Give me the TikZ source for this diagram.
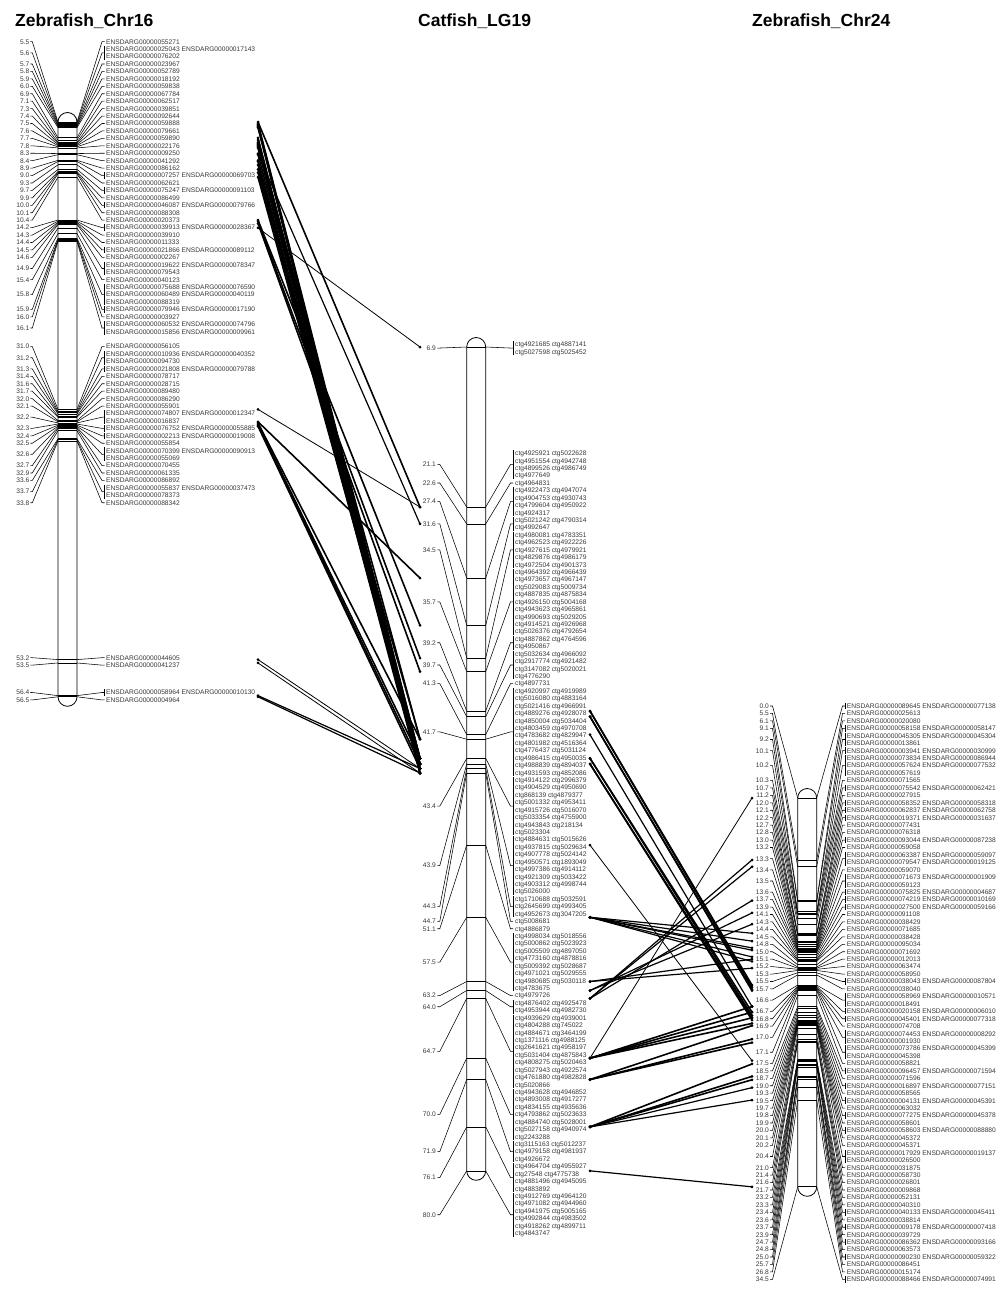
\documentclass[tikz,border=0pt]{standalone}
\usepackage{fontspec}
\setmainfont{Liberation Sans}
\newcommand\ens[1]{ENSDARG000000#1}
\definecolor{labc}{RGB}{55,55,55}
\begin{document}
\begin{tikzpicture}[x=1pt,y=-1pt,
  lab/.style={font=\fontsize{6.65}{7}\selectfont, text=labc, inner sep=0pt, text height=4.75pt, text depth=0pt},
  gene/.style={lab, anchor=west},
  posl/.style={lab, anchor=east},
  tline/.style={line width=0.55pt},
  chrom/.style={line width=0.8pt},
  band/.style={line width=0.7pt},
  ttl/.style={font=\fontsize{17.5}{20}\selectfont\bfseries, anchor=base west, inner sep=0pt},
  conn/.style={line width=#1, line cap=round},
]
\path[use as bounding box] (0,0) rectangle (1001,1293);
\node[ttl] (t1) at (15,26.7) {Zebrafish\_Chr16};
\node[ttl] (t2) at (418,26.7) {Catfish\_LG19};
\node[ttl] (t3) at (752,26.7) {Zebrafish\_Chr24};

% ---------------- left map: Zebrafish_Chr16 ----------------
\draw[chrom, rounded corners=9.5pt] (58,112.5) rectangle (77,706.3);
\foreach \p/\id/\ra/\rb/\br in {5.5/55/0/0/0, 5.6/56/1/2/1, 5.7/57/3/3/0, 5.8/58/4/4/0, 5.9/59/5/5/0, 6.0/60/6/6/0, 6.9/69/7/7/0, 7.1/71/8/8/0, 7.3/73/9/9/0, 7.4/74/10/10/0, 7.5/75/11/11/0, 7.6/76/12/12/0, 7.7/77/13/13/0, 7.8/78/14/14/0, 8.3/83/15/15/0, 8.4/84/16/16/0, 8.9/89/17/17/0, 9.0/90/18/18/1, 9.3/93/19/19/0, 9.7/97/20/20/1, 9.9/99/21/21/0, 10.0/100/22/22/1, 10.1/101/23/23/0, 10.4/104/24/24/0, 14.2/142/25/25/1, 14.3/143/26/26/0, 14.4/144/27/27/0, 14.5/145/28/28/1, 14.6/146/29/29/0, 14.9/149/30/31/1, 15.4/154/32/32/0, 15.8/158/33/35/1, 15.9/159/36/36/1, 16.0/160/37/37/0, 16.1/161/38/39/1, 31.0/310/41/41/0, 31.2/312/42/43/1, 31.3/313/44/44/1, 31.4/314/45/45/0, 31.6/316/46/46/0, 31.7/317/47/47/0, 32.0/320/48/48/0, 32.1/321/49/49/0, 32.2/322/50/51/1, 32.3/323/52/52/1, 32.4/324/53/53/1, 32.5/325/54/54/0, 32.6/326/55/56/1, 32.7/327/57/57/0, 32.9/329/58/58/0, 33.6/336/59/59/0, 33.7/337/60/61/1, 33.8/338/62/62/0, 53.2/532/82.84/82.84/0, 53.5/535/83.84/83.84/0, 56.4/564/87.52/87.52/1, 56.5/565/88.52/88.52/0}{
  \pgfmathsetmacro\my{122+(\p-5.5)*11.27}
  \pgfmathsetmacro\ya{41.7+7.436*\ra}
  \pgfmathsetmacro\yb{41.7+7.436*\rb}
  \pgfmathsetmacro\ly{(\ya+\yb)/2}
  \node[posl] (Lp\id) at (29.5,\ly) {\p};
  \draw[tline] (30.3,\ly) -- (32.3,\ly) -- (58,\my);
  \draw[tline] (77,\my) -- (102,\ly) -- (104.5,\ly);
  \ifnum\br=1 \draw[tline] (104.5,\ya-3.2) -- (104.5,\yb+3.2); \fi
  \draw[band] (58,\my) -- (77,\my);
  \coordinate (L\id) at (258,\my);
}
\foreach \r/\txt [count=\i] in {0/\ens{55271}, 1/\ens{25043} \ens{17143}, 2/\ens{76202}, 3/\ens{23967}, 4/\ens{52789}, 5/\ens{18192}, 6/\ens{59838}, 7/\ens{67784}, 8/\ens{62517}, 9/\ens{39851}, 10/\ens{92644}, 11/\ens{59888}, 12/\ens{79661}, 13/\ens{59890}, 14/\ens{22176}, 15/\ens{09250}, 16/\ens{41292}, 17/\ens{86162}, 18/\ens{07257} \ens{69703}, 19/\ens{62621}, 20/\ens{75247} \ens{91103}, 21/\ens{86499}, 22/\ens{46087} \ens{79766}, 23/\ens{88308}, 24/\ens{20373}, 25/\ens{39913} \ens{28367}, 26/\ens{39910}, 27/\ens{11333}, 28/\ens{21866} \ens{89112}, 29/\ens{02267}, 30/\ens{19622} \ens{78347}, 31/\ens{79543}, 32/\ens{40123}, 33/\ens{75688} \ens{76590}, 34/\ens{60489} \ens{40119}, 35/\ens{88319}, 36/\ens{79946} \ens{17190}, 37/\ens{03927}, 38/\ens{60532} \ens{74796}, 39/\ens{15856} \ens{09961}, 41/\ens{56105}, 42/\ens{10936} \ens{40352}, 43/\ens{94730}, 44/\ens{21808} \ens{79788}, 45/\ens{78717}, 46/\ens{28715}, 47/\ens{89480}, 48/\ens{86290}, 49/\ens{55901}, 50/\ens{74807} \ens{12347}, 51/\ens{16837}, 52/\ens{76752} \ens{55885}, 53/\ens{02213} \ens{19008}, 54/\ens{55854}, 55/\ens{70399} \ens{90913}, 56/\ens{55069}, 57/\ens{70455}, 58/\ens{61335}, 59/\ens{86892}, 60/\ens{55837} \ens{37473}, 61/\ens{78373}, 62/\ens{88342}, 82.84/\ens{44605}, 83.84/\ens{41237}, 87.52/\ens{58964} \ens{10130}, 88.52/\ens{04964}}{
  \node[gene] (Lg\i) at (106,{41.7+7.436*\r}) {\txt};
}

% ---------------- middle map: Catfish_LG19 ----------------
\draw[chrom, rounded corners=9.5pt] (466.7,337.5) rectangle (485.7,1180.3);
\foreach \p/\id/\ka/\kb/\br in {6.9/69/-14.67/-13.67/1, 21.1/211/0/3/1, 22.6/226/4/4/0, 27.4/274/5/8/1, 31.6/316/9/10/1, 34.5/345/11/15/1, 35.7/357/16/24/1, 39.2/392/25/26/1, 39.7/397/27/30/1, 41.3/413/31/31/0, 41.7/417/32/43/1, 43.4/434/44/51/1, 43.9/439/52/59/1, 44.3/443/60/62/1, 44.7/447/63/63/0, 51.1/511/64/64/0, 57.5/575/65/72/1, 63.2/632/73/73/0, 64.0/640/74/75/1, 64.7/647/76/85/1, 70.0/700/86/92/1, 71.9/719/93/95/1, 76.1/761/96/99/1, 80.0/800/100/105/1}{
  \pgfmathsetmacro\my{347+(\p-6.9)*11.27}
  \pgfmathsetmacro\ya{453.3+7.4286*\ka}
  \pgfmathsetmacro\yb{453.3+7.4286*\kb}
  \pgfmathsetmacro\ly{(\ya+\yb)/2}
  \node[posl] (Mp\id) at (436,\ly) {\p};
  \draw[tline] (437.3,\ly) -- (439.8,\ly) -- (466.7,\my);
  \draw[tline] (485.7,\my) -- (510.5,\ly) -- (513,\ly);
  \ifnum\br=1 \draw[tline] (513,\ya-3.2) -- (513,\yb+3.2); \fi
  \draw[band] (466.7,\my) -- (485.7,\my);
  \coordinate (ML\id) at (420,\my);
  \coordinate (MR\id) at (590,\my);
}
\foreach \k/\txt [count=\i] in {-14.67/ctg4921685 ctg4887141, -13.67/ctg5027598 ctg5025452, 0/ctg4925921 ctg5022628, 1/ctg4951554 ctg4942748, 2/ctg4899526 ctg4986749, 3/ctg4977649, 4/ctg4964831, 5/ctg4922473 ctg4947074, 6/ctg4904753 ctg4930743, 7/ctg4799604 ctg4950922, 8/ctg4924317, 9/ctg5021242 ctg4790314, 10/ctg4992647, 11/ctg4980081 ctg4783351, 12/ctg4962523 ctg4922226, 13/ctg4927615 ctg4979921, 14/ctg4829876 ctg4986179, 15/ctg4972504 ctg4901373, 16/ctg4964392 ctg4966439, 17/ctg4973657 ctg4967147, 18/ctg5029083 ctg5009734, 19/ctg4887835 ctg4875834, 20/ctg4926150 ctg5004168, 21/ctg4943623 ctg4965861, 22/ctg4990693 ctg5029205, 23/ctg4914521 ctg4926968, 24/ctg5026376 ctg4792654, 25/ctg4887862 ctg4764596, 26/ctg4950867, 27/ctg5032634 ctg4966092, 28/ctg2917774 ctg4921482, 29/ctg3147082 ctg5020021, 30/ctg4776290, 31/ctg4897731, 32/ctg4920997 ctg4919989, 33/ctg5016080 ctg4883164, 34/ctg5021416 ctg4966991, 35/ctg4889276 ctg4928078, 36/ctg4850004 ctg5034404, 37/ctg4803459 ctg4970708, 38/ctg4783682 ctg4829947, 39/ctg4801982 ctg4516364, 40/ctg4776437 ctg5031124, 41/ctg4986415 ctg4950035, 42/ctg4988839 ctg4894037, 43/ctg4931593 ctg4852086, 44/ctg4914122 ctg2996379, 45/ctg4904529 ctg4950690, 46/ctg868139 ctg4879377, 47/ctg5001332 ctg4953411, 48/ctg4915726 ctg5016070, 49/ctg5033354 ctg4755900, 50/ctg4943843 ctg218134, 51/ctg5023304, 52/ctg4884631 ctg5015626, 53/ctg4937815 ctg5029634, 54/ctg4907778 ctg5024142, 55/ctg4950571 ctg1893049, 56/ctg4997386 ctg4914112, 57/ctg4921309 ctg5033422, 58/ctg4903312 ctg4998744, 59/ctg5026000, 60/ctg1710688 ctg5032591, 61/ctg2645699 ctg4993405, 62/ctg4952673 ctg3047205, 63/ctg5008681, 64/ctg4886879, 65/ctg4998034 ctg5018556, 66/ctg5000862 ctg5023923, 67/ctg5005509 ctg4897050, 68/ctg4773160 ctg4878816, 69/ctg5009392 ctg5028687, 70/ctg4971021 ctg5029555, 71/ctg4980685 ctg5030118, 72/ctg4783675, 73/ctg4979726, 74/ctg4876402 ctg4925478, 75/ctg4953944 ctg4982730, 76/ctg4939629 ctg4939001, 77/ctg4804288 ctg745022, 78/ctg4884671 ctg3464199, 79/ctg1371116 ctg4988125, 80/ctg2641621 ctg4958197, 81/ctg5031404 ctg4875843, 82/ctg4808275 ctg5020463, 83/ctg5027943 ctg4922574, 84/ctg4761880 ctg4982828, 85/ctg5020866, 86/ctg4943628 ctg4946852, 87/ctg4893008 ctg4917277, 88/ctg4834155 ctg4935636, 89/ctg4793862 ctg5023633, 90/ctg4884740 ctg5028001, 91/ctg5027158 ctg4940974, 92/ctg2243288, 93/ctg3115163 ctg5012237, 94/ctg4979158 ctg4981937, 95/ctg4926672, 96/ctg4964704 ctg4955927, 97/ctg27548 ctg4775738, 98/ctg4881496 ctg4945095, 99/ctg4883892, 100/ctg4912769 ctg4964120, 101/ctg4971082 ctg4944960, 102/ctg4941975 ctg5005165, 103/ctg4992844 ctg4983502, 104/ctg4918262 ctg4899711, 105/ctg4843747}{
  \node[gene] (Mg\i) at (515,{453.3+7.4286*\k}) {\txt};
}

% ---------------- right map: Zebrafish_Chr24 ----------------
\draw[chrom, rounded corners=9.5pt] (797.7,788.5) rectangle (816.7,1196.3);
\foreach \p/\id/\ja/\jb/\br in {0.0/0/0/0/1, 5.5/55/1/1/0, 6.1/61/2/2/0, 9.1/91/3/3/1, 9.2/92/4/5/1, 10.1/101/6/6/1, 10.2/102/7/9/1, 10.3/103/10/10/0, 10.7/107/11/11/1, 11.2/112/12/12/0, 12.0/120/13/13/1, 12.1/121/14/14/1, 12.2/122/15/15/1, 12.7/127/16/16/0, 12.8/128/17/17/0, 13.0/130/18/18/1, 13.2/132/19/19/0, 13.3/133/20/21/1, 13.4/134/22/22/0, 13.5/135/23/24/1, 13.6/136/25/25/1, 13.7/137/26/26/1, 13.9/139/27/27/1, 14.1/141/28/28/0, 14.3/143/29/29/0, 14.4/144/30/30/0, 14.5/145/31/31/0, 14.8/148/32/32/0, 15.0/150/33/33/0, 15.1/151/34/34/0, 15.2/152/35/35/0, 15.3/153/36/36/0, 15.5/155/37/37/1, 15.7/157/38/38/0, 16.6/166/39/40/1, 16.7/167/41/41/1, 16.8/168/42/42/1, 16.9/169/43/43/0, 17.0/170/44/45/1, 17.1/171/46/47/1, 17.5/175/48/48/0, 18.5/185/49/49/1, 18.7/187/50/50/0, 19.0/190/51/51/1, 19.3/193/52/52/0, 19.5/195/53/53/1, 19.7/197/54/54/0, 19.8/198/55/55/1, 19.9/199/56/56/0, 20.0/200/57/57/1, 20.1/201/58/58/0, 20.2/202/59/59/0, 20.4/204/60/61/1, 21.0/210/62/62/0, 21.4/214/63/63/0, 21.6/216/64/64/0, 21.7/217/65/65/0, 23.2/232/66/66/0, 23.3/233/67/67/0, 23.4/234/68/68/1, 23.6/236/69/69/0, 23.7/237/70/70/1, 23.9/239/71/71/0, 24.7/247/72/72/1, 24.8/248/73/73/0, 25.0/250/74/74/1, 25.7/257/75/75/0, 26.8/268/76/76/0, 34.5/345/77/77/1}{
  \pgfmathsetmacro\my{798+\p*11.27}
  \pgfmathsetmacro\ya{706+7.446*\ja}
  \pgfmathsetmacro\yb{706+7.446*\jb}
  \pgfmathsetmacro\ly{(\ya+\yb)/2}
  \node[posl] (Rp\id) at (769,\ly) {\p};
  \draw[tline] (770.2,\ly) -- (772.5,\ly) -- (797.7,\my);
  \draw[tline] (816.7,\my) -- (842.5,\ly) -- (845,\ly);
  \ifnum\br=1 \draw[tline] (845,\ya-3.2) -- (845,\yb+3.2); \fi
  \draw[band] (797.7,\my) -- (816.7,\my);
  \coordinate (R\id) at (752,\my);
}
\foreach \j/\txt [count=\i] in {0/\ens{89645} \ens{77138}, 1/\ens{25613}, 2/\ens{20080}, 3/\ens{58158} \ens{58147}, 4/\ens{45305} \ens{45304}, 5/\ens{13861}, 6/\ens{03941} \ens{30999}, 7/\ens{73834} \ens{86944}, 8/\ens{57624} \ens{77532}, 9/\ens{57619}, 10/\ens{71565}, 11/\ens{75542} \ens{62421}, 12/\ens{27915}, 13/\ens{58352} \ens{58318}, 14/\ens{62837} \ens{62758}, 15/\ens{19371} \ens{31637}, 16/\ens{77431}, 17/\ens{76318}, 18/\ens{93044} \ens{87238}, 19/\ens{59058}, 20/\ens{63387} \ens{59097}, 21/\ens{79547} \ens{19125}, 22/\ens{59070}, 23/\ens{71673} \ens{01909}, 24/\ens{59123}, 25/\ens{75825} \ens{04687}, 26/\ens{74219} \ens{10169}, 27/\ens{27500} \ens{59166}, 28/\ens{91108}, 29/\ens{38429}, 30/\ens{71685}, 31/\ens{38428}, 32/\ens{95034}, 33/\ens{71692}, 34/\ens{12013}, 35/\ens{63474}, 36/\ens{58950}, 37/\ens{38043} \ens{87804}, 38/\ens{38040}, 39/\ens{58969} \ens{10571}, 40/\ens{18491}, 41/\ens{20158} \ens{06010}, 42/\ens{45401} \ens{77318}, 43/\ens{74708}, 44/\ens{74453} \ens{08292}, 45/\ens{01930}, 46/\ens{73786} \ens{45399}, 47/\ens{45398}, 48/\ens{58821}, 49/\ens{96457} \ens{71594}, 50/\ens{71596}, 51/\ens{16897} \ens{77151}, 52/\ens{58565}, 53/\ens{04131} \ens{45391}, 54/\ens{63032}, 55/\ens{77275} \ens{45378}, 56/\ens{58601}, 57/\ens{58603} \ens{88880}, 58/\ens{45372}, 59/\ens{45371}, 60/\ens{17929} \ens{19137}, 61/\ens{26500}, 62/\ens{31875}, 63/\ens{58730}, 64/\ens{26801}, 65/\ens{09868}, 66/\ens{52131}, 67/\ens{40310}, 68/\ens{40133} \ens{45411}, 69/\ens{38814}, 70/\ens{09178} \ens{07418}, 71/\ens{39729}, 72/\ens{86362} \ens{93166}, 73/\ens{63573}, 74/\ens{90230} \ens{59322}, 75/\ens{86451}, 76/\ens{15174}, 77/\ens{88466} \ens{74991}}{
  \node[gene] (Rg\i) at (846.7,{706+7.446*\j}) {\txt};
}

% ---------------- connectors ----------------
\foreach \a/\b/\w in {55/211/1.6pt, 83/226/1.2pt, 149/69/0.8pt, 310/211/0.8pt, 321/274/1.6pt, 142/316/1.6pt, 143/345/1.6pt, 145/357/1.6pt, 56/434/1.6pt, 57/439/1.6pt, 58/443/1.6pt, 59/447/1.6pt, 60/434/1.6pt, 69/439/1.6pt, 71/443/1.6pt, 73/447/1.6pt, 74/417/1.6pt, 75/434/1.6pt, 76/439/1.6pt, 77/443/1.6pt, 78/447/1.6pt, 84/434/1.6pt, 89/439/1.6pt, 90/443/1.6pt, 93/447/1.6pt, 97/417/1.6pt, 100/434/1.6pt, 104/439/1.6pt, 322/417/1.6pt, 323/434/1.6pt, 324/439/1.6pt, 325/443/1.6pt, 532/443/0.8pt, 535/447/0.8pt, 564/443/1.2pt, 565/447/1.2pt}{
  \draw[conn=\w] (L\a) -- (ML\b);
  \fill (L\a) circle (1.5pt);
  \fill (ML\b) circle (1.5pt);
}
\foreach \a/\b/\w in {392/166/1.6pt, 392/168/1.6pt, 397/170/1.6pt, 397/171/1.6pt, 413/185/1.2pt, 434/190/1.6pt, 434/193/1.6pt, 439/195/1.6pt, 439/197/1.6pt, 511/233/0.8pt, 575/120/1.2pt, 575/127/1.2pt, 575/133/1.2pt, 575/135/1.2pt, 575/141/1.2pt, 575/145/1.2pt, 632/143/1.2pt, 632/151/1.2pt, 640/102/1.2pt, 640/112/1.2pt, 647/55/1.2pt, 647/61/1.2pt, 647/91/1.2pt, 700/185/1.6pt, 700/190/1.6pt, 700/195/1.6pt, 700/200/1.6pt, 719/202/1.6pt, 719/214/1.6pt, 719/217/1.6pt, 761/236/1.6pt, 761/247/1.6pt, 761/250/1.6pt, 761/257/1.2pt, 761/268/1.2pt, 800/345/1.2pt, 700/0/0.8pt}{
  \draw[conn=\w] (MR\a) -- (R\b);
  \fill (MR\a) circle (1.5pt);
  \fill (R\b) circle (1.5pt);
}
\end{tikzpicture}
\end{document}
